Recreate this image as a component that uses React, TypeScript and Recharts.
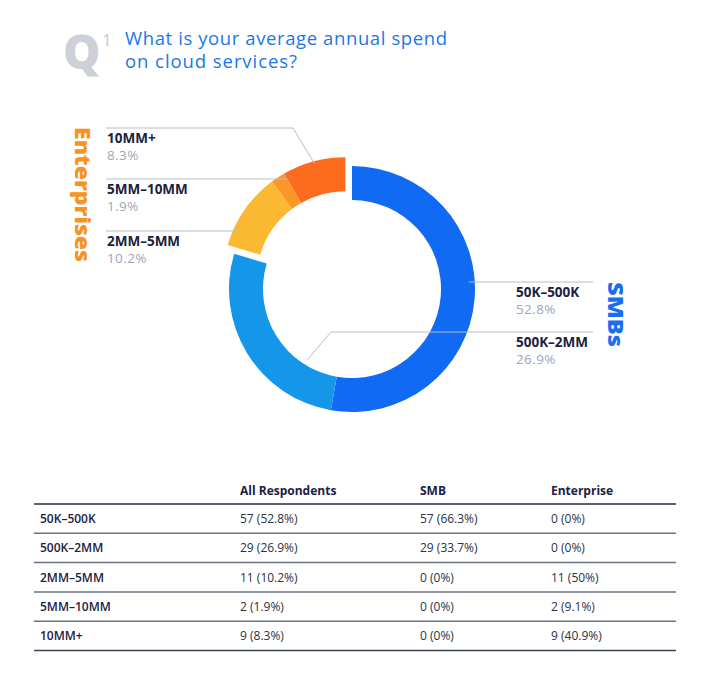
import { PieChart, Pie, Cell } from 'recharts';

// survey answers
const CATEGORIES = ['50K–500K', '500K–2MM', '2MM–5MM', '5MM–10MM', '10MM+'];
const ALL_COUNT = [57, 29, 11, 2, 9];
const ALL_PCT = [52.8, 26.9, 10.2, 1.9, 8.3];
const SMB_COUNT = [57, 29, 0, 0, 0];
const SMB_PCT = [66.3, 33.7, 0, 0, 0];
const ENT_COUNT = [0, 0, 11, 2, 9];
const ENT_PCT = [0, 0, 50, 9.1, 40.9];
const SEGMENT = ['SMB', 'SMB', 'ENT', 'ENT', 'ENT'];
const TABLE_HEADERS = ['All Respondents', 'SMB', 'Enterprise'];

const COLORS = ['#106af4', '#1597e9', '#fbb933', '#fb9629', '#fd6b1f'];
const NAVY = '#1b2140';
const VALUE_GREY = '#a1a4ba';
const LINE_GREY = '#b9bccb';

// where each label sits (layout only)
const LABEL_LAYOUT: Record<string, { side: 'left' | 'right'; lineY: number; elbowX?: number; delta?: number; rAdj?: number }> = {
  '50K–500K': { side: 'right', lineY: 282 },
  '500K–2MM': { side: 'right', lineY: 332, elbowX: 331, delta: 26, rAdj: -39 },
  '2MM–5MM': { side: 'left', lineY: 231 },
  '5MM–10MM': { side: 'left', lineY: 179 },
  '10MM+': { side: 'left', lineY: 128, elbowX: 293, delta: 0, rAdj: -2 },
};

const CENTER = { x: 352, y: 289 };
const INNER = 89;
const OUTER = 123;
const EXPLODE = 11;
const RAD = Math.PI / 180;

const pieData = CATEGORIES.map((name, i) => ({ name, value: ALL_PCT[i], segment: SEGMENT[i] }));

// enterprise slice group is pulled out along its middle angle
const total = ALL_PCT.reduce((a, b) => a + b, 0);
const smbShare = ALL_PCT.filter((_, i) => SEGMENT[i] === 'SMB').reduce((a, b) => a + b, 0) / total;
const entMid = 360 * (smbShare + (1 - smbShare) / 2);
const ENT_CENTER = {
  x: CENTER.x + EXPLODE * Math.sin(entMid * RAD),
  y: CENTER.y - EXPLODE * Math.cos(entMid * RAD),
};

const renderLabel = (segment: string) => (props: any) => {
  const { cx, cy, midAngle, outerRadius, index } = props;
  if (SEGMENT[index] !== segment) return <g />;
  const name = CATEGORIES[index];
  const lay = LABEL_LAYOUT[name];
  const left = lay.side === 'left';
  const edgeX = left ? 106 : 593;
  const textX = left ? 107 : 516;
  let points: string;
  if (lay.elbowX !== undefined) {
    const ang = midAngle + (lay.delta ?? 0);
    const r = outerRadius + (lay.rAdj ?? 0);
    const px = cx + r * Math.cos(-ang * RAD);
    const py = cy + r * Math.sin(-ang * RAD);
    points = `${edgeX},${lay.lineY} ${lay.elbowX},${lay.lineY} ${px},${py}`;
  } else {
    const r = outerRadius - 6;
    const dy = lay.lineY - cy;
    const dx = Math.sqrt(Math.max(r * r - dy * dy, 0));
    const px = left ? cx - dx : cx + dx;
    points = `${edgeX},${lay.lineY} ${px},${lay.lineY}`;
  }
  return (
    <g>
      <polyline points={points} fill="none" stroke={LINE_GREY} strokeWidth={1} />
      <text x={textX} y={lay.lineY + 14.5} fontFamily="'Open Sans', sans-serif" fontWeight={700} fontSize={13.5} fill={NAVY}>
        {name}
      </text>
      <text x={textX} y={lay.lineY + 32} fontFamily="'Open Sans', sans-serif" fontSize={13.5} fill={VALUE_GREY} letterSpacing={0.4}>
        {ALL_PCT[index]}%
      </text>
    </g>
  );
};

const ROW_Y0 = 504;
const ROW_H = 29.3;
const COL_X = [40, 240, 420, 551];

export default function App() {
  return (
    <div style={{ position: 'absolute', left: 0, top: 0, width: 708, height: 674, background: '#fff', overflow: 'hidden' }}>
      <svg width={708} height={110} style={{ position: 'absolute', left: 0, top: 0 }}>
        <text x={63} y={69} fontFamily="'Open Sans', sans-serif" fontWeight={800} fontSize={47} fill="#cdd0d6">Q</text>
        <text x={102} y={46} fontFamily="'Open Sans', sans-serif" fontWeight={400} fontSize={17} fill="#c4c8cf">1</text>
        <text x={125} y={45} fontFamily="'Open Sans', sans-serif" fontSize={18.5} fill="#1a78e8" textLength={322} lengthAdjust="spacing">
          What is your average annual spend
        </text>
        <text x={125} y={68} fontFamily="'Open Sans', sans-serif" fontSize={18.5} fill="#1a78e8" textLength={172} lengthAdjust="spacing">
          on cloud services?
        </text>
      </svg>

      <div style={{ position: 'absolute', left: 0, top: 0 }}>
        <PieChart width={708} height={460} margin={{ top: 0, right: 0, bottom: 0, left: 0 }}>
          <Pie
            data={pieData}
            dataKey="value"
            nameKey="name"
            cx={CENTER.x}
            cy={CENTER.y}
            innerRadius={INNER}
            outerRadius={OUTER}
            startAngle={90}
            endAngle={-270}
            stroke="none"
            isAnimationActive={false}
            labelLine={false}
            label={renderLabel('SMB')}
          >
            {pieData.map((d, i) => (
              <Cell key={`smb-${i}`} fill={d.segment === 'SMB' ? COLORS[i] : 'none'} stroke="none" />
            ))}
          </Pie>
          <Pie
            data={pieData}
            dataKey="value"
            nameKey="name"
            cx={ENT_CENTER.x}
            cy={ENT_CENTER.y}
            innerRadius={INNER}
            outerRadius={OUTER}
            startAngle={90}
            endAngle={-270}
            stroke="none"
            isAnimationActive={false}
            labelLine={false}
            label={renderLabel('ENT')}
          >
            {pieData.map((d, i) => (
              <Cell key={`ent-${i}`} fill={d.segment === 'ENT' ? COLORS[i] : 'none'} stroke="none" />
            ))}
          </Pie>
        </PieChart>
      </div>

      <svg width={708} height={460} style={{ position: 'absolute', left: 0, top: 0, pointerEvents: 'none' }}>
        <text
          transform="translate(75,194.5) rotate(90)"
          textAnchor="middle"
          fontFamily="'Open Sans', sans-serif"
          fontWeight={800}
          fontSize={21}
          fill="#f7941d"
          textLength={135}
          lengthAdjust="spacingAndGlyphs"
        >
          Enterprises
        </text>
        <text
          transform="translate(608,314.5) rotate(90)"
          textAnchor="middle"
          fontFamily="'Open Sans', sans-serif"
          fontWeight={800}
          fontSize={21}
          fill="#1a6ef2"
          textLength={65}
          lengthAdjust="spacingAndGlyphs"
        >
          SMBs
        </text>
      </svg>

      <svg width={708} height={200} style={{ position: 'absolute', left: 0, top: 474 }}>
        <g transform="translate(0,-474)" fontFamily="'Open Sans', sans-serif" fontSize={12} fill={NAVY}>
          {TABLE_HEADERS.map((h, i) => (
            <text key={h} x={COL_X[i + 1]} y={494.5} fontWeight={700}>{h}</text>
          ))}
          <line x1={34} x2={676} y1={ROW_Y0} y2={ROW_Y0} stroke="#5d6270" strokeWidth={2} />
          {CATEGORIES.map((c, i) => {
            const yMid = ROW_Y0 + ROW_H * (i + 0.5);
            const yLine = ROW_Y0 + ROW_H * (i + 1);
            return (
              <g key={c}>
                <text x={COL_X[0]} y={yMid + 4.5} fontWeight={600}>{c}</text>
                <text x={COL_X[1]} y={yMid + 4.5} fill="#2c3148">{`${ALL_COUNT[i]} (${ALL_PCT[i]}%)`}</text>
                <text x={COL_X[2]} y={yMid + 4.5} fill="#2c3148">{`${SMB_COUNT[i]} (${SMB_PCT[i]}%)`}</text>
                <text x={COL_X[3]} y={yMid + 4.5} fill="#2c3148">{`${ENT_COUNT[i]} (${ENT_PCT[i]}%)`}</text>
                <line x1={34} x2={676} y1={yLine} y2={yLine} stroke={i === CATEGORIES.length - 1 ? '#3d4255' : '#6d7282'} strokeWidth={1.5} />
              </g>
            );
          })}
        </g>
      </svg>
    </div>
  );
}
